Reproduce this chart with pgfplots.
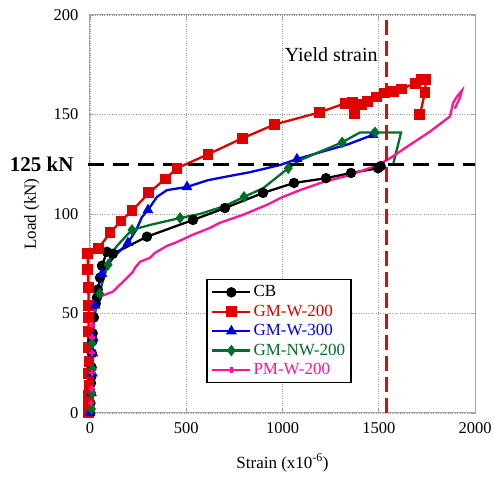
\documentclass[border=0pt]{standalone}
\usepackage{fontspec}
\setmainfont{Liberation Serif}
\usepackage{pgfplots}
\pgfplotsset{compat=1.18}
\definecolor{cRed}{RGB}{224,0,0}
\definecolor{cBlue}{RGB}{0,0,230}
\definecolor{cGreen}{RGB}{0,110,40}
\definecolor{cPink}{RGB}{255,20,150}
\definecolor{cYield}{RGB}{200,20,20}
\begin{document}
\begin{tikzpicture}
\begin{axis}[
 scale only axis, width=385pt, height=398pt,
 xmin=0, xmax=2000, ymin=0, ymax=200,
 xtick={0,500,...,2000}, ytick={0,50,...,200},
 grid=major, grid style={dotted, gray!80, line width=0.8pt},
 axis line style={gray!70, line width=1pt},
 tick style={gray!70, line width=0.8pt},
 tick align=inside, major tick length=4pt,
 ticklabel style={font=\fontsize{16.5}{18}\selectfont},
 yticklabel style={xshift=-8pt},
 xticklabel style={yshift=-6pt},
 /pgf/number format/assume math mode=true,
 /pgf/number format/1000 sep={},
 xlabel={Strain (x10\textsuperscript{-6})},
 ylabel={Load (kN)},
 every axis x label/.style={at={(axis description cs:0.5,-0.125)},anchor=center,font=\fontsize{17}{19}\selectfont},
 every axis y label/.style={at={(axis description cs:-0.151,0.5)},anchor=center,rotate=90,font=\fontsize{17}{19}\selectfont},
 clip=false,
 legend style={at={(axis cs:605,67.4)}, anchor=north west, draw=black, line width=1.5pt,
   font=\fontsize{17}{19}\selectfont, row sep=0pt, inner xsep=4pt, inner ysep=3pt, cells={anchor=west},
   nodes={text height=13pt, text depth=4pt, inner ysep=1.2pt}},
 legend image code/.code={\draw[#1, mark indices={2}] plot coordinates {(0pt,0pt) (19pt,0pt) (38pt,0pt)};},
]
% CB
\addplot[black, line width=2.3pt, mark=*, mark size=4pt] coordinates {
(0,0)(2,5)(3,10)(5,15)(6,18)(8,23)(10,30)(12,36)(14,40)(20,48)(30,55)(36,58)(40,62)(52,68)(62,74)(88,81)(119,80)(296,88.6)(535,97)(701,103)(899,110.6)(1060,115.6)(1226,118)(1356,120.6)(1496,123)(1510,124)};
\addlegendentry{CB}
% GM-W-200
\addplot[cRed, line width=2.3pt, mark=square*, mark size=4.3pt] coordinates {
(-8,0)(-8,4)(-6,9)(-5,14)(-6,20)(-5,26)(-8,33)(-9,41)(-6,48)(-7,54)(-9,63)(-11,72)(-12,80)(42,82.5)(104,90.5)(161,96.5)(218,101.6)(306,110.6)(390,117.6)(452,123)(613,130)(790,138)(960,145)(1190,151)(1325,155.6)(1365,156)(1375,150.5)(1410,155)(1440,156.5)(1490,158.8)(1530,160.8)(1575,161.5)(1620,162.8)(1690,165.8)(1720,167.5)(1745,167.5)(1740,161)(1714,150)};
\addlegendentry{\textcolor{cRed}{GM-W-200}}
% GM-W-300
\addplot[cBlue, line width=2.3pt, mark=triangle*, mark size=4pt, mark indices={1,3,5,7,8,10,12,14,17,20,25,28}] coordinates {
(0,0)(5,5)(8,10)(10,15)(12,20)(14,25)(15,30)(16,38)(20,46)(26,54)(40,62)(62,70)(120,78)(197,85.5)(240,92)(270,98.5)(301,102)(348,108.6)(400,112)(504,113.6)(613,117)(720,119)(831,121)(987,124.6)(1075,127.6)(1231,132)(1340,135)(1470,139.8)};
\addlegendentry{\textcolor{cBlue}{GM-W-300}}
% GM-NW-200
\addplot[cGreen, line width=2.3pt, mark=diamond*, mark size=4pt, mark indices={2,4,6,8,11,13,16,18,21,23,26,28}] coordinates {
(0,0)(8,2)(10,6)(10,10)(10,13)(12,22)(12,30)(10,35)(20,45)(30,52)(50,60)(68,67)(94,74.5)(110,80)(145,84.5)(218,92)(312,94.5)(468,98)(570,100)(700,104)(800,108.6)(900,113)(1030,123)(1090,127)(1200,131.5)(1310,136)(1403,141)(1481,141)(1616,141)(1574,124.6)};
\addlegendentry{\textcolor{cGreen}{GM-NW-200}}
% PM-W-200
\addplot[cPink, line width=2.3pt, mark=+, mark size=3pt, mark indices={2,3,4,5,6,7}] coordinates {
(0,0)(5,5)(8,12)(10,20)(10,30)(10,38)(12,44)(20,50)(26,56)(52,58.5)(119,61)(140,63)(182,67)(223,71)(234,73)(260,76)(312,78)(338,80.5)(400,84)(442,85.5)(535,89.6)(623,93)(675,95.6)(795,99.6)(919,104.6)(1000,108.5)(1091,112)(1210,116)(1351,119.6)(1496,124.6)(1558,128)(1647,133.8)(1766,141.4)(1870,149)(1886,155.8)(1906,159)(1932,162)(1920,158)(1895,153)};
\addlegendentry{\textcolor{cPink}{PM-W-200}}
% reference lines
\addplot[black, line width=3pt, dash pattern=on 16pt off 9pt, forget plot] coordinates {(-12,125)(2000,125)};
\addplot[cYield, line width=2.5pt, dash pattern=on 15pt off 6pt, forget plot] coordinates {(1540,0)(1540,200)};
\node[anchor=east, font=\fontsize{21}{24}\selectfont\bfseries, xshift=-13pt] at (axis cs:0,125) {125 kN};
\node[anchor=base east, font=\fontsize{20}{24}\selectfont, inner sep=0pt] at (axis cs:1495,176.4) {Yield strain};
\end{axis}
\pgfresetboundingbox
\path ([shift={(-90pt,-65pt)}]current axis.south west) rectangle ([shift={(20pt,15pt)}]current axis.north east);
\end{tikzpicture}
\end{document}
